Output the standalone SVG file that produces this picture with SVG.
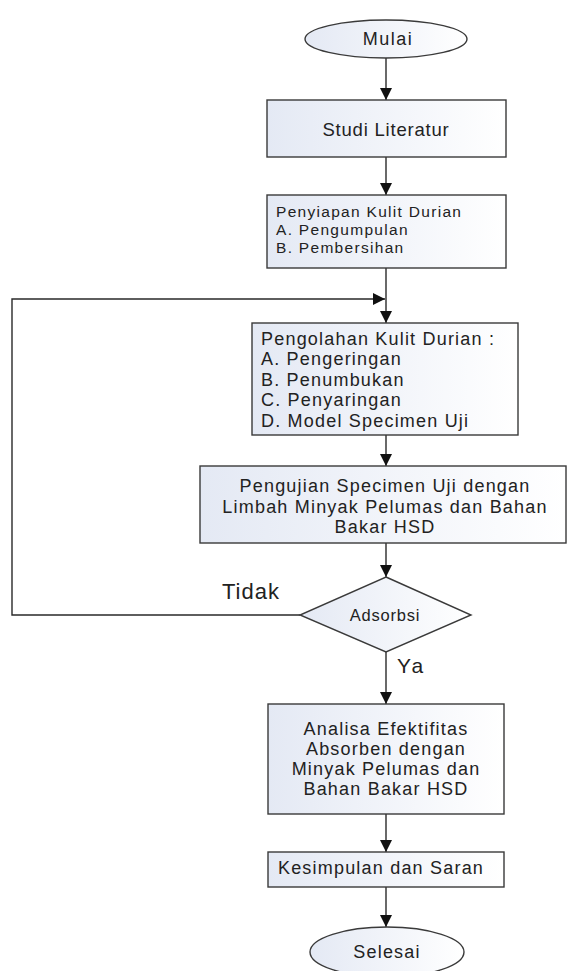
<svg xmlns="http://www.w3.org/2000/svg" width="568" height="971" viewBox="0 0 568 971">
<style>
.box{stroke:#3a3a3a;stroke-width:1.4;fill:url(#g)}
.ln{stroke:#2a2a2a;stroke-width:1.4;fill:none}
.ah{fill:#111}
text{font-family:"Liberation Sans",Arial,sans-serif;fill:#222;font-size:18px;letter-spacing:0.8px}
.c{text-anchor:middle}
.s{font-size:15.5px;letter-spacing:1.3px}
.w{letter-spacing:1.2px}
</style>
<defs>
<linearGradient id="g" x1="0" y1="0" x2="1" y2="0">
<stop offset="0" stop-color="#e4e9f4"/>
<stop offset="1" stop-color="#ffffff"/>
</linearGradient>
<marker id="a" viewBox="0 0 12 12" refX="12" refY="6" markerWidth="12" markerHeight="12" markerUnits="userSpaceOnUse" orient="auto">
<path d="M0,0 L12,6 L0,12 Z" class="ah"/>
</marker>
</defs>
<g id="connectors">
<line class="ln" x1="386" y1="58" x2="386" y2="100" marker-end="url(#a)"/>
<line class="ln" x1="386" y1="157" x2="386" y2="195" marker-end="url(#a)"/>
<line class="ln" x1="386" y1="268" x2="386" y2="323" marker-end="url(#a)"/>
<line class="ln" x1="386" y1="435" x2="386" y2="466" marker-end="url(#a)"/>
<line class="ln" x1="386" y1="543" x2="386" y2="577" marker-end="url(#a)"/>
<line class="ln" x1="386" y1="652" x2="386" y2="704" marker-end="url(#a)"/>
<line class="ln" x1="386" y1="814" x2="386" y2="852" marker-end="url(#a)"/>
<line class="ln" x1="386" y1="887" x2="386" y2="927" marker-end="url(#a)"/>
<polyline class="ln" points="300,615 12,615 12,299 385,299" marker-end="url(#a)"/>
<text x="222" y="599" style="font-size:22px;letter-spacing:1px">Tidak</text>
<text x="397" y="673" style="font-size:21px;letter-spacing:2px">Ya</text>
</g>
<g id="mulai">
<ellipse class="box" cx="386" cy="39" rx="81" ry="19"/>
<text class="c" x="388" y="45" style="letter-spacing:1.5px">Mulai</text>
</g>
<g id="studi">
<rect class="box" x="267" y="100" width="239" height="57"/>
<text class="c" x="386" y="136" style="font-size:18.5px">Studi Literatur</text>
</g>
<g id="penyiapan">
<rect class="box" x="267" y="195" width="239" height="73"/>
<text class="s" x="276" y="217">Penyiapan Kulit Durian</text>
<text class="s" x="276" y="235">A. Pengumpulan</text>
<text class="s" x="276" y="253">B. Pembersihan</text>
</g>
<g id="pengolahan">
<rect class="box" x="252" y="323" width="266" height="112"/>
<text class="w" x="261" y="345">Pengolahan Kulit Durian :</text>
<text class="w" x="261" y="365">A. Pengeringan</text>
<text class="w" x="261" y="386">B. Penumbukan</text>
<text class="w" x="261" y="406">C. Penyaringan</text>
<text class="w" x="261" y="427">D. Model Specimen Uji</text>
</g>
<g id="pengujian">
<rect class="box" x="200" y="466" width="366" height="77"/>
<text class="c w" x="385" y="492">Pengujian Specimen Uji dengan</text>
<text class="c w" x="385" y="513">Limbah Minyak Pelumas dan Bahan</text>
<text class="c w" x="385" y="533">Bakar HSD</text>
</g>
<g id="adsorbsi">
<polygon class="box" points="386,577 471,615 386,652 300,615"/>
<text class="c" x="385" y="621" style="font-size:16.5px">Adsorbsi</text>
</g>
<g id="analisa">
<rect class="box" x="268" y="704" width="236" height="110"/>
<text class="c w" x="386" y="735">Analisa Efektifitas</text>
<text class="c w" x="386" y="755">Absorben dengan</text>
<text class="c w" x="386" y="775">Minyak Pelumas dan</text>
<text class="c w" x="386" y="795">Bahan Bakar HSD</text>
</g>
<g id="kesimpulan">
<rect class="box" x="268" y="852" width="236" height="35"/>
<text class="c w" x="381" y="874">Kesimpulan dan Saran</text>
</g>
<g id="selesai">
<ellipse class="box" cx="387" cy="952" rx="77" ry="25"/>
<text class="c w" x="387" y="958">Selesai</text>
</g>
</svg>
